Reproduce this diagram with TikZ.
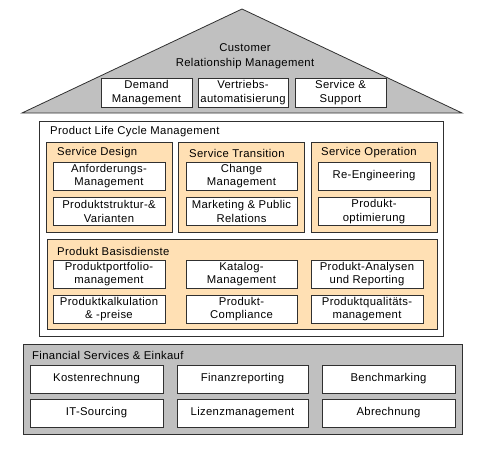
\documentclass[tikz,border=0pt]{standalone}
\usepackage{fontspec}
\setmainfont{Liberation Sans}[LetterSpace=3]
\definecolor{roofgray}{HTML}{C0C0C0}
\definecolor{peach}{HTML}{FFE0B4}
\definecolor{edge}{HTML}{303030}
\begin{document}
\begin{tikzpicture}[x=1pt,y=-1pt,
  every node/.style={font=\fontsize{11.3}{13.5}\selectfont, inner sep=0pt, align=center},
  box/.style={draw=edge, fill=white, line width=0.8pt, minimum height=28pt},
  group/.style={draw=edge, line width=0.8pt},
  title/.style={anchor=west}]
\useasboundingbox (0,0) rectangle (500,452);
% roof
\draw[fill=roofgray, draw=edge, line width=0.8pt] (22,113) coordinate (rl) -- (242,9) coordinate (apex) -- (462,113) coordinate (rr) -- cycle;
\node[font=\fontsize{11.3}{15}\selectfont] (crm) at (245,56) {Customer\\Relationship Management};
\node[box, minimum width=91pt, minimum height=29pt] (dm) at (146.5,92.5) {Demand\\Management};
\node[box, minimum width=90pt, minimum height=29pt] (va) at (243,92.5) {Vertriebs-\\automatisierung};
\node[box, minimum width=91pt, minimum height=29pt] (ss) at (340.5,92.5) {Service \&\\Support};
% PLM
\node[group, fill=white, minimum width=404pt, minimum height=215pt] (plm) at (241,228.5) {};
\node[title] (plmt) at (50,132) {Product Life Cycle Management};
\node[group, fill=peach, minimum width=126pt, minimum height=90pt] (sd) at (109,187) {};
\node[group, fill=peach, minimum width=126pt, minimum height=90pt] (st) at (241,187) {};
\node[group, fill=peach, minimum width=126pt, minimum height=90pt] (so) at (374,187) {};
\node[title] (sdt) at (57,153) {Service Design};
\node[title] (stt) at (189,153) {Service Transition};
\node[title] (sot) at (321,153) {Service Operation};
\node[box, minimum width=112pt] (am) at (109,176) {Anforderungs-\\Management};
\node[box, minimum width=112pt] (pv) at (109,211.5) {Produktstruktur-\&\\Varianten};
\node[box, minimum width=111pt] (cm) at (241.5,176) {Change\\Management};
\node[box, minimum width=111pt] (mp) at (241.5,211.5) {Marketing \& Public\\Relations};
\node[box, minimum width=112pt] (re) at (374,176) {Re-Engineering};
\node[box, minimum width=112pt] (po) at (374,211.5) {Produkt-\\optimierung};
\node[group, fill=peach, minimum width=390pt, minimum height=90pt] (pb) at (242,284) {};
\node[title] (pbt) at (57,251) {Produkt Basisdienste};
\node[box, minimum width=112pt] (ppm) at (109,274) {Produktportfolio-\\management};
\node[box, minimum width=111pt] (kat) at (241.5,274) {Katalog-\\Management};
\node[box, minimum width=112pt] (par) at (367,274) {Produkt-Analysen\\und Reporting};
\node[box, minimum width=112pt] (pkp) at (109,309) {Produktkalkulation\\\& -preise};
\node[box, minimum width=111pt] (pc) at (241.5,309) {Produkt-\\Compliance};
\node[box, minimum width=112pt] (pqm) at (367,309) {Produktqualitäts-\\management};
% Financial
\node[group, fill=roofgray, minimum width=439pt, minimum height=90pt] (fin) at (242.5,389) {};
\node[title] (fint) at (32,355) {Financial Services \& Einkauf};
\node[box, minimum width=133pt] (kr) at (96.5,379) {Kostenrechnung};
\node[box, minimum width=131pt] (fr) at (242.5,379) {Finanzreporting};
\node[box, minimum width=133pt] (bm) at (388.5,379) {Benchmarking};
\node[box, minimum width=133pt] (its) at (96.5,413) {IT-Sourcing};
\node[box, minimum width=131pt] (lm) at (242.5,413) {Lizenzmanagement};
\node[box, minimum width=133pt] (ab) at (388.5,413) {Abrechnung};
\end{tikzpicture}
\end{document}
